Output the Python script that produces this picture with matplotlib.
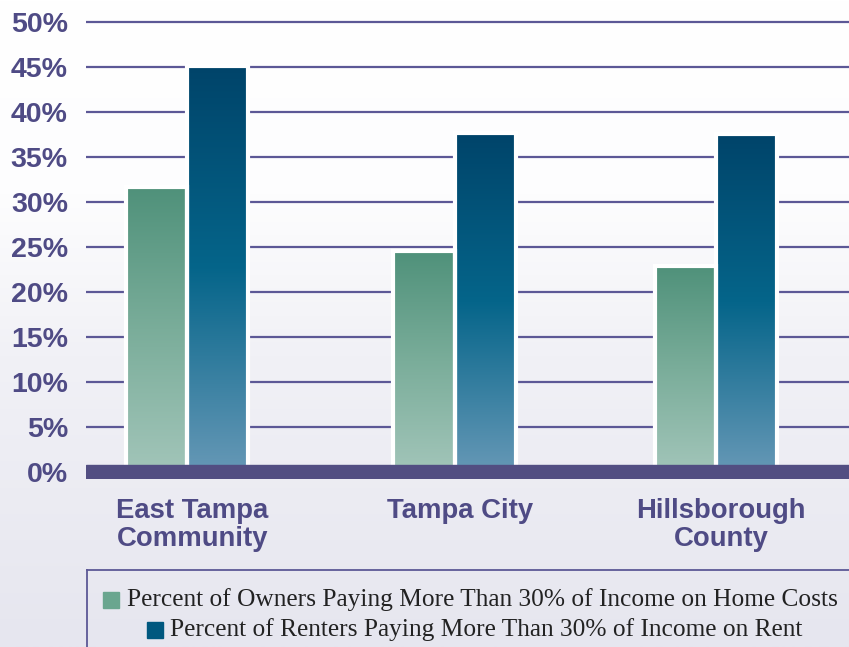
import matplotlib.pyplot as plt
import matplotlib.colors as mcolors
import numpy as np

# data
categories = ["East Tampa\nCommunity", "Tampa City", "Hillsborough\nCounty"]
owners = [31.7, 24.6, 22.9]
renters = [45.1, 37.7, 37.6]
series_names = ["Percent of Owners Paying More Than 30% of Income on Home Costs",
                "Percent of Renters Paying More Than 30% of Income on Rent"]
yticks = [0, 5, 10, 15, 20, 25, 30, 35, 40, 45, 50]

purple = "#4f4b85"
grid_purple = "#5c5896"

owner_cmap = mcolors.LinearSegmentedColormap.from_list("own", ["#a2c5b9", "#7aad9a", "#4f917a"])
renter_cmap = mcolors.LinearSegmentedColormap.from_list("rent", ["#6698b6", "#05658a", "#00446a"])

fig = plt.figure(figsize=(8.49, 6.47), dpi=100)

# background gradient (white at top -> pale lavender at bottom)
bg = fig.add_axes([0, 0, 1, 1], zorder=-5)
grad = np.linspace(0, 1, 256).reshape(-1, 1)
bg_cmap = mcolors.LinearSegmentedColormap.from_list(
    "bg", [(0, "#e6e6ef"), (0.45, "#f1f1f6"), (0.7, "#fdfdfe"), (1, "#ffffff")])
bg.imshow(grad, aspect="auto", cmap=bg_cmap, origin="lower", extent=[0, 1, 0, 1])
bg.axis("off")

ax = fig.add_axes([86 / 849, (647 - 479) / 647, 1 - 86 / 849, (479 - 15) / 647])
ax.patch.set_alpha(0)
for s in ax.spines.values():
    s.set_visible(False)

# grid lines
for t in yticks[1:]:
    ax.axhline(t, color=grid_purple, lw=1.6, zorder=1)

x = np.array([0, 1.012, 2])
width = 0.232
off = 0.116


def gradient_bars(xs, vals, cmap):
    bars = ax.bar(xs, vals, width, facecolor="none", edgecolor="white", lw=3, zorder=4)
    for b in bars:
        x0, y0 = b.get_x(), b.get_y()
        w, h = b.get_width(), b.get_height()
        im = ax.imshow(np.linspace(0, 1, 256).reshape(-1, 1), cmap=cmap, origin="lower",
                       aspect="auto", extent=[x0, x0 + w, 0, h], zorder=3)
        clip = plt.Rectangle((x0, y0), w, h, transform=ax.transData)
        im.set_clip_path(clip)
    return bars


gradient_bars(x - off, owners, owner_cmap)
gradient_bars(x + off, renters, renter_cmap)
ax.set_xlim(-0.382, 2.503)
ax.set_ylim(-0.78, 50.78)

# baseline band
ax.axhspan(-0.78, 0.78, color="#524e82", zorder=6)

ax.set_yticks(yticks)
ax.set_yticklabels([f"{t}%" for t in yticks], fontsize=20.5, fontweight="bold",
                   color=purple, family="Liberation Sans")
ax.tick_params(axis="y", length=0, pad=13)
ax.set_xticks([])

for xi, lab in zip(x, categories):
    ax.text(xi + 0.02, -2.9, lab, ha="center", va="top", fontsize=19.8, fontweight="bold",
            color=purple, family="Liberation Sans", linespacing=1.12, clip_on=False)

# legend box
fig.add_artist(plt.Line2D([87 / 849, 1], [1 - 570 / 647, 1 - 570 / 647], color=grid_purple, lw=1.3))
fig.add_artist(plt.Line2D([87 / 849, 87 / 849], [0, 1 - 570 / 647], color=grid_purple, lw=1.3))

leg_colors = ["#6aa68f", "#00587f"]
leg_rows = [(103, 127, 600), (147, 170, 630)]
for (mx, tx, ty), col, name in zip(leg_rows, leg_colors, series_names):
    fig.add_artist(plt.Rectangle((mx / 849, 1 - (ty + 8) / 647), 16 / 849, 16 / 647,
                                 transform=fig.transFigure, color=col))
    fig.text(tx / 849, 1 - ty / 647, name, fontsize=18.3, family="Liberation Serif",
             color="#222222", va="center", ha="left")

fig.savefig("out.png", dpi=100)
